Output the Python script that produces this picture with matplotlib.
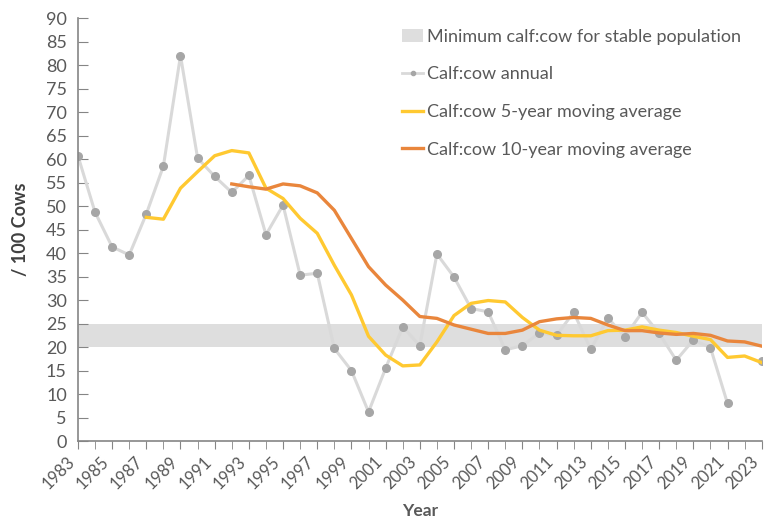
import numpy as np
import matplotlib.pyplot as plt
from matplotlib.patches import Patch
from matplotlib.lines import Line2D

plt.rcParams['font.family'] = ['Lato', 'DejaVu Sans']

years = list(range(1983, 2024))

# annual calf:cow ratio (2022 missing)
annual = [60.7, 48.7, 41.3, 39.6, 48.3, 58.5, 82.0, 60.2, 56.3, 52.9,
          56.5, 43.9, 50.2, 35.3, 35.7, 19.7, 15.0, 6.2, 15.5, 24.3,
          20.3, 39.8, 34.9, 28.2, 27.5, 19.4, 20.3, 23.0, 22.5, 27.4,
          19.5, 26.2, 22.2, 27.4, 22.9, 17.2, 21.5, 19.9, 8.0, np.nan, 17.1]

# 5-year moving average, from 1987
ma5_years = list(range(1987, 2024))
ma5 = [47.6, 47.2, 53.8, 57.3, 60.7, 61.8, 61.3, 53.8, 51.6, 47.4,
       44.2, 37.4, 31.1, 22.3, 18.3, 16.0, 16.2, 21.1, 26.7, 29.3,
       29.9, 29.6, 26.3, 23.6, 22.5, 22.4, 22.4, 23.5, 23.6, 24.3,
       23.6, 23.1, 22.3, 21.6, 17.8, 18.1, 16.7]

# 10-year moving average, from 1992
ma10_years = list(range(1992, 2024))
ma10 = [54.7, 54.1, 53.6, 54.7, 54.3, 52.8, 49.1, 43.1, 37.1, 33.2,
        30.0, 26.5, 26.1, 24.7, 23.8, 22.9, 22.9, 23.6, 25.4, 26.0,
        26.3, 26.1, 24.7, 23.5, 23.5, 23.0, 22.7, 22.9, 22.5, 21.3,
        21.1, 20.2]

band_low, band_high = 20, 25

fig = plt.figure(figsize=(7.64, 5.22), dpi=100)
ax = fig.add_axes([0.102, 0.155, 0.895, 0.8105])

ax.axhspan(band_low, band_high, color='#dedede', lw=0, zorder=1)
ax.plot(years, annual, color='#d9d9d9', lw=2.2, marker='o', ms=5.5,
        mfc='#a6a6a6', mec='#a6a6a6', zorder=2)
ax.plot(ma5_years, ma5, color='#ffc931', lw=2.4, zorder=3)
ax.plot(ma10_years, ma10, color='#e9863c', lw=2.4, zorder=4)

ax.set_xlim(1983, 2023)
ax.set_ylim(0, 90)
ax.set_yticks(range(0, 91, 5))
ax.set_xticks(range(1983, 2024, 2))
ax.set_xticks(range(1983, 2024), minor=True)
ax.set_xticklabels([str(y) for y in range(1983, 2024, 2)], rotation=45,
                   ha='right', va='top', rotation_mode='default')

for s in ['top', 'right']:
    ax.spines[s].set_visible(False)
for s in ['left', 'bottom']:
    ax.spines[s].set_color('#858585')
    ax.spines[s].set_linewidth(1.2)

ax.tick_params(axis='y', direction='in', length=7, color='#858585',
               labelsize=13, labelcolor='#595959', pad=8)
ax.tick_params(axis='x', which='both', direction='out', length=6,
               color='#858585', labelsize=12, labelcolor='#595959', pad=3)

ax.set_xlabel('Year', fontsize=12.5, fontweight='bold', color='#595959', labelpad=8)
ax.set_ylabel('/ 100 Cows', fontsize=13, fontweight='bold', color='#404040', labelpad=12)

handles = [
    Patch(facecolor='#dedede', edgecolor='none'),
    Line2D([], [], color='#d9d9d9', lw=2, marker='o', ms=3, mfc='#a6a6a6', mec='#a6a6a6'),
    Line2D([], [], color='#ffc931', lw=2.4),
    Line2D([], [], color='#e9863c', lw=2.4),
]
labels = ['Minimum calf:cow for stable population', 'Calf:cow annual',
          'Calf:cow 5-year moving average', 'Calf:cow 10-year moving average']
leg = ax.legend(handles, labels, loc='upper left', bbox_to_anchor=(0.455, 1.005),
                frameon=False, fontsize=13, handlelength=1.2, handletextpad=0.2,
                labelspacing=1.2, borderaxespad=0.3)
for t in leg.get_texts():
    t.set_color('#595959')

fig.savefig('out.png', dpi=100)
